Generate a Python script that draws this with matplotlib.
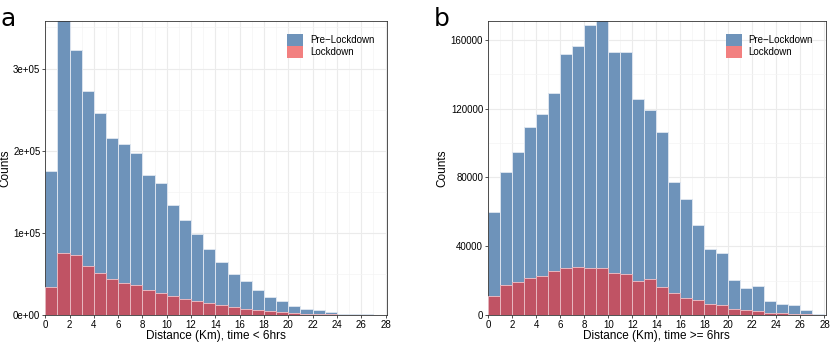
import numpy as np
import matplotlib.pyplot as plt
from matplotlib.patches import Patch
from matplotlib.ticker import FuncFormatter, MultipleLocator

plt.rcParams['font.family'] = ['Liberation Sans', 'DejaVu Sans']

# Histogram bins, 1 km wide, 0..28
bin_edges = list(range(0, 29))

# Panel a: time < 6hrs
pre_a = [175700, 370000, 322500, 272600, 245400, 215400, 208500, 197600, 170000, 161100,
         134300, 116000, 98200, 79900, 64100, 50300, 41000, 30800, 21500, 17000,
         10500, 6900, 6500, 3200, 1600, 1200, 800, 400]
lock_a = [33700, 75900, 73000, 60000, 51500, 44200, 39400, 36900, 30000, 27200,
          23100, 19900, 17400, 14600, 11800, 9700, 6900, 5700, 4500, 3700,
          2000, 1600, 1600, 800, 400, 300, 200, 100]

# Panel b: time >= 6hrs
pre_b = [60100, 83400, 94600, 109200, 117100, 128800, 151900, 156500, 168500, 174000,
         152800, 152800, 125500, 119100, 106100, 77600, 67700, 52200, 38200, 36100,
         20600, 15900, 16900, 8100, 6200, 5600, 3100, 800]
lock_b = [11100, 17300, 19400, 21300, 22500, 25400, 27200, 28100, 27500, 27500,
          24600, 23700, 20000, 20800, 16100, 12600, 9900, 8500, 6400, 6000,
          3500, 2700, 2300, 1200, 1000, 600, 600, 200]

blue = '#6e93ba'
red = '#c05364'
red_key = '#f28080'
edge = '#dbe3ee'

fig = plt.figure(figsize=(8.3, 3.42), dpi=100)
ax_a = fig.add_axes([0.0545, 0.079, 0.4115, 0.86])
ax_b = fig.add_axes([0.588, 0.079, 0.4068, 0.86])

panels = [
    (ax_a, pre_a, lock_a, 358000, 'Distance (Km), time < 6hrs', -0.099,
     FuncFormatter(lambda v, p: '{:.0e}'.format(v)), 100000),
    (ax_b, pre_b, lock_b, 171000, 'Distance (Km), time >= 6hrs', -0.118,
     FuncFormatter(lambda v, p: '%d' % v), 40000),
]

for ax, pre, lock, ytop, xlab, ylab_x, fmt, ystep in panels:
    left = bin_edges[:-1]
    ax.bar(left, pre, width=1, align='edge', color=blue, edgecolor=edge, linewidth=0.7, zorder=2)
    ax.bar(left, lock, width=1, align='edge', color=red, edgecolor='#e8b8c0', linewidth=0.7, zorder=3)
    ax.set_xlim(0, 28.1)
    ax.set_ylim(0, ytop)
    ax.xaxis.set_major_locator(MultipleLocator(2))
    ax.xaxis.set_minor_locator(MultipleLocator(1))
    ax.yaxis.set_major_locator(MultipleLocator(ystep))
    ax.yaxis.set_minor_locator(MultipleLocator(ystep / 2))
    ax.yaxis.set_major_formatter(fmt)
    ax.grid(which='major', color='#ebebeb', linewidth=0.8, zorder=0)
    ax.grid(which='minor', color='#f4f4f4', linewidth=0.5, zorder=0)
    ax.set_axisbelow(True)
    ax.tick_params(which='major', labelsize=7, length=2.5, width=0.6, pad=1, colors='#333333')
    ax.tick_params(which='minor', length=0)
    ax.tick_params(axis='x', labelcolor='black')
    ax.tick_params(axis='y', labelcolor='black')
    for s in ax.spines.values():
        s.set_color('#333333')
        s.set_linewidth(0.6)
    ax.set_xlabel(xlab, fontsize=8.5, labelpad=0)
    ax.set_ylabel('Counts', fontsize=8.5)
    ax.yaxis.set_label_coords(ylab_x, 0.5)
    handles = [Patch(facecolor=blue, edgecolor='none', label='Pre\u2212Lockdown'),
               Patch(facecolor=red_key, edgecolor='none', label='Lockdown')]
    ax.legend(handles=handles, loc='upper right', frameon=False, fontsize=7,
              handlelength=1.6, handleheight=1.6, handletextpad=0.7,
              labelspacing=0.0, borderaxespad=0.9)

fig.text(0.0, 0.98, 'a', fontsize=18, va='top', ha='left', family='DejaVu Sans')
fig.text(0.523, 0.98, 'b', fontsize=18, va='top', ha='left', family='DejaVu Sans')

fig.savefig('out.png', dpi=100)
